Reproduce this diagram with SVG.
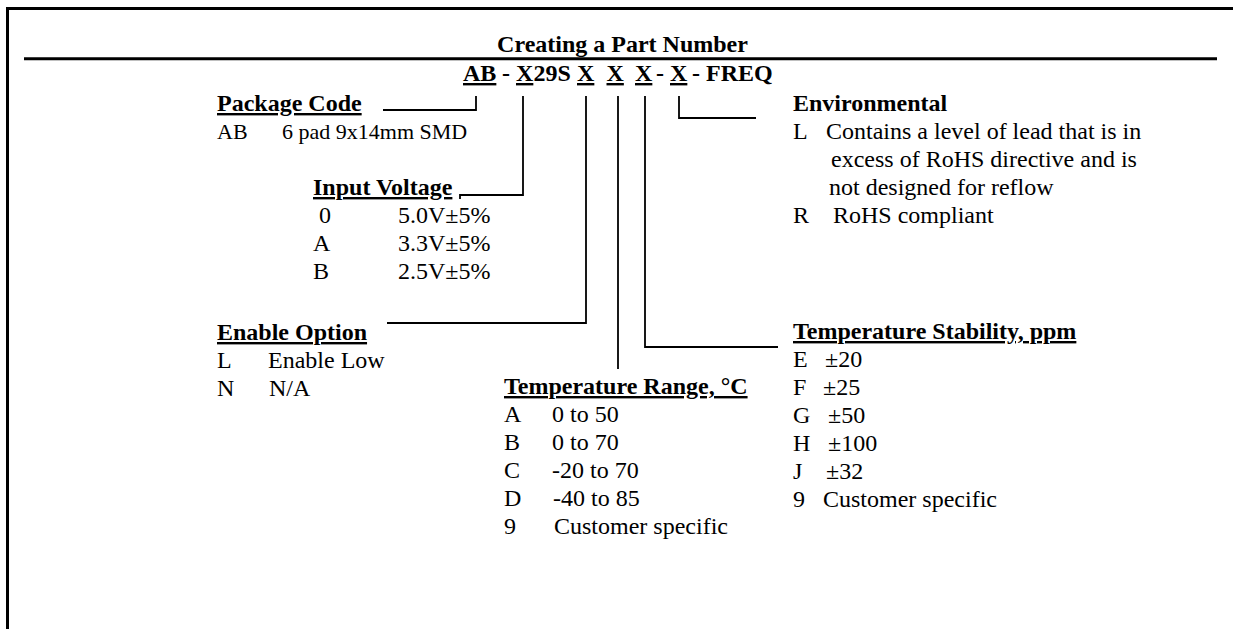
<svg xmlns="http://www.w3.org/2000/svg" width="1233" height="629" viewBox="0 0 1233 629">
<style>
text{font-family:"Liberation Serif","Times New Roman",serif;font-size:24px;fill:#000}
.b{font-weight:bold}
.u{text-decoration:underline}
.frame{stroke:#000;stroke-width:3;fill:none}
.c{stroke:#000;stroke-width:1.8;fill:none}
</style>
<rect width="1233" height="629" fill="#fff"/>
<g id="frame">
<path class="frame" d="M7.5 629V8.5H1233"/>
<path class="frame" d="M24 58.7H1217" stroke-width="2.7"/>
</g>
<g id="title">
<text class="b" x="622.5" y="52" text-anchor="middle">Creating a Part Number</text>
</g>
<g id="partnumber">
<text class="b u" x="463" y="81">AB</text>
<text class="b" x="502" y="81">-</text>
<text class="b u" x="516" y="81">X</text>
<text class="b" x="533.5" y="81">29S</text>
<text class="b u" x="577" y="81">X</text>
<text class="b u" x="606.5" y="81">X</text>
<text class="b u" x="635" y="81">X</text>
<text class="b" x="656" y="81">-</text>
<text class="b u" x="670" y="81">X</text>
<text class="b" x="692" y="81">- FREQ</text>
</g>
<g id="connectors">
<path class="c" d="M383 110H476V96"/>
<path class="c" d="M460 199V195H523V96"/>
<path class="c" d="M387 323H586V96"/>
<path class="c" d="M618 96V369"/>
<path class="c" d="M645 96V347H778"/>
<path class="c" d="M679 96V118H756"/>
</g>
<g id="package-code">
<text class="b u" x="217" y="111">Package Code</text>
<text x="217" y="139" style="font-size:22px">AB</text>
<text x="282" y="139" style="font-size:22px">6 pad 9x14mm SMD</text>
</g>
<g id="input-voltage">
<text class="b u" x="313" y="195">Input Voltage</text>
<text x="319" y="223">0</text><text x="398" y="223">5.0V±5%</text>
<text x="313" y="251">A</text><text x="398" y="251">3.3V±5%</text>
<text x="313" y="279">B</text><text x="398" y="279">2.5V±5%</text>
</g>
<g id="enable-option">
<text class="b u" x="217" y="340">Enable Option</text>
<text x="217" y="368">L</text><text x="268" y="368">Enable Low</text>
<text x="217" y="396">N</text><text x="269" y="396">N/A</text>
</g>
<g id="temperature-range">
<text class="b u" x="504" y="394">Temperature Range, °C</text>
<text x="504" y="422">A</text><text x="552" y="422">0 to 50</text>
<text x="504" y="450">B</text><text x="552" y="450">0 to 70</text>
<text x="504" y="478">C</text><text x="552" y="478">-20 to 70</text>
<text x="504" y="506">D</text><text x="553" y="506">-40 to 85</text>
<text x="504" y="534">9</text><text x="554" y="534">Customer specific</text>
</g>
<g id="temperature-stability">
<text class="b u" x="793" y="339">Temperature Stability, ppm</text>
<text x="793" y="367">E</text><text x="825" y="367">±20</text>
<text x="793" y="395">F</text><text x="823" y="395">±25</text>
<text x="793" y="423">G</text><text x="828" y="423">±50</text>
<text x="793" y="451">H</text><text x="828" y="451">±100</text>
<text x="793" y="479">J</text><text x="826" y="479">±32</text>
<text x="793" y="507">9</text><text x="823" y="507">Customer specific</text>
</g>
<g id="environmental">
<text class="b" x="793" y="111">Environmental</text>
<text x="793" y="139">L</text><text x="826" y="139">Contains a level of lead that is in</text>
<text x="831" y="167">excess of RoHS directive and is</text>
<text x="829" y="195">not designed for reflow</text>
<text x="793" y="223">R</text><text x="833" y="223">RoHS compliant</text>
</g>
</svg>
